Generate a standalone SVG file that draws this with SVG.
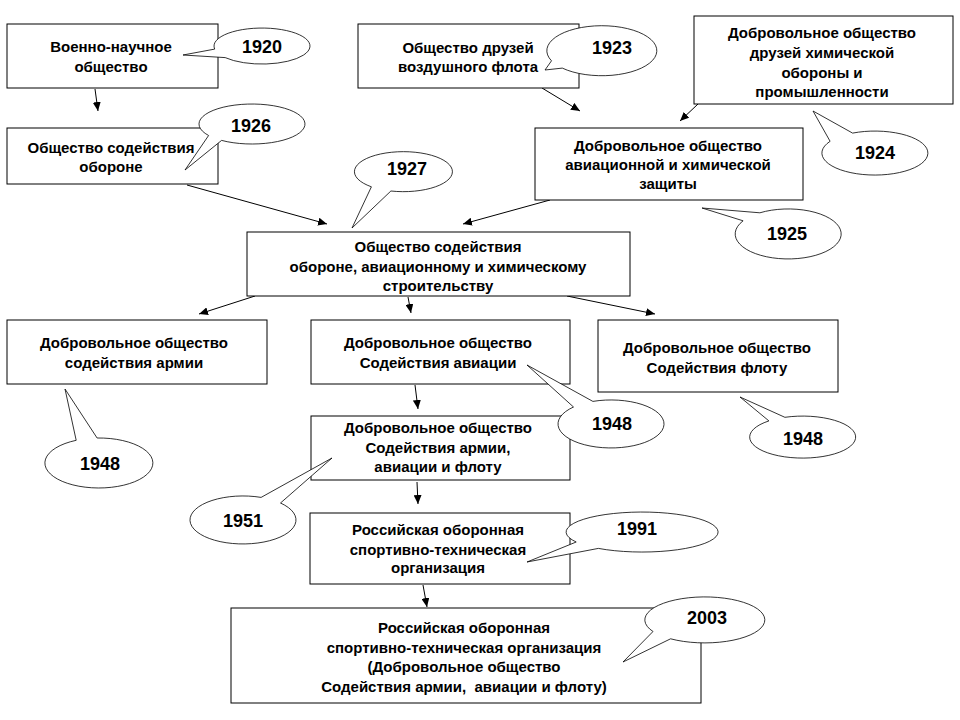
<svg xmlns="http://www.w3.org/2000/svg" width="960" height="720" viewBox="0 0 960 720">
<defs>
<marker id="ah" markerWidth="10" markerHeight="8" refX="9" refY="4" orient="auto" markerUnits="userSpaceOnUse">
<path d="M0,0 L9,4 L0,8 Z" fill="#000"/>
</marker>
<style>
.box{fill:#fff;stroke:#000;stroke-width:1}
.t{font-family:"Liberation Sans",Arial,sans-serif;font-weight:bold;font-size:15px;fill:#000;text-anchor:middle}
.y{font-family:"Liberation Sans",Arial,sans-serif;font-weight:bold;font-size:18px;fill:#000;text-anchor:middle}
.co{fill:#fff;stroke:#000;stroke-width:0.8}
.c{fill:none;stroke:#000;stroke-width:1;marker-end:url(#ah)}
</style>
</defs>
<rect width="960" height="720" fill="#fff"/>
<g id="connectors">
<line class="c" x1="95" y1="89" x2="98" y2="111"/>
<line class="c" x1="187" y1="185" x2="327" y2="224"/>
<line class="c" x1="542" y1="88" x2="580" y2="111"/>
<line class="c" x1="698" y1="104" x2="680" y2="121"/>
<line class="c" x1="550" y1="200" x2="463" y2="224"/>
<line class="c" x1="255" y1="296" x2="199" y2="314"/>
<line class="c" x1="408" y1="297" x2="411" y2="313"/>
<line class="c" x1="567" y1="296" x2="655" y2="314"/>
<line class="c" x1="415" y1="385" x2="418" y2="409"/>
<line class="c" x1="417" y1="482" x2="418" y2="504"/>
<line class="c" x1="423" y1="585" x2="427" y2="607"/>
</g>
<g id="n1"><rect class="box" x="7" y="24" width="211" height="64"/>
<text class="t" x="111" y="52">Военно-научное</text><text class="t" x="111" y="72">общество</text></g>
<g id="n2"><rect class="box" x="7" y="128" width="211" height="56"/>
<text class="t" x="111" y="153">Общество содействия</text><text class="t" x="111" y="172">обороне</text></g>
<g id="n3"><rect class="box" x="358" y="24" width="221" height="64"/>
<text class="t" x="468" y="53">Общество друзей</text><text class="t" x="468" y="72">воздушного флота</text></g>
<g id="n4"><rect class="box" x="694" y="16" width="259" height="88"/>
<text class="t" x="822" y="38">Добровольное общество</text><text class="t" x="822" y="58">друзей химической</text><text class="t" x="822" y="78">обороны и</text><text class="t" x="822" y="97">промышленности</text></g>
<g id="n5"><rect class="box" x="535" y="128" width="268" height="72"/>
<text class="t" x="668" y="151">Добровольное общество</text><text class="t" x="668" y="170">авиационной и химической</text><text class="t" x="668" y="189">защиты</text></g>
<g id="n6"><rect class="box" x="247" y="232" width="383" height="64"/>
<text class="t" x="438" y="252">Общество содействия</text><text class="t" x="438" y="272">обороне, авиационному и химическому</text><text class="t" x="438" y="291">строительству</text></g>
<g id="n7"><rect class="box" x="7" y="320" width="260" height="64"/>
<text class="t" x="134" y="348">Добровольное общество</text><text class="t" x="134" y="368">содействия армии</text></g>
<g id="n8"><rect class="box" x="311" y="320" width="259" height="64"/>
<text class="t" x="438" y="348">Добровольное общество</text><text class="t" x="438" y="368">Содействия авиации</text></g>
<g id="n9"><rect class="box" x="598" y="320" width="240" height="72"/>
<text class="t" x="717" y="353">Добровольное общество</text><text class="t" x="717" y="373">Содействия флоту</text></g>
<g id="n10"><rect class="box" x="311" y="416" width="259" height="64"/>
<text class="t" x="438" y="433">Добровольное общество</text><text class="t" x="438" y="453">Содействия армии,</text><text class="t" x="438" y="472">авиации и флоту</text></g>
<g id="n11"><rect class="box" x="310" y="513" width="260" height="71"/>
<text class="t" x="438" y="535">Российская оборонная</text><text class="t" x="438" y="555">спортивно-техническая</text><text class="t" x="438" y="573">организация</text></g>
<g id="n12"><rect class="box" x="231" y="608" width="470" height="95"/>
<text class="t" x="464" y="633">Российская оборонная</text><text class="t" x="464" y="653">спортивно-техническая организация</text><text class="t" x="464" y="672">(Добровольное общество</text><text class="t" x="464" y="692" xml:space="preserve">Содействия армии,  авиации и флоту)</text></g>
<g id="c1920"><path class="co" d="M214.7,49.1 A48,18 0 1 1 225.2,57.6 L183,55 Z"/><text class="y" x="262" y="53">1920</text></g>
<g id="c1926"><path class="co" d="M208.6,135.5 A53,20 0 1 1 221.6,140.4 L185,170 Z"/><text class="y" x="251" y="132">1926</text></g>
<g id="c1923"><path class="co" d="M551.5,60.8 A55,25 0 1 1 562.3,68.1 L545,70 Z"/><text class="y" x="612" y="54">1923</text></g>
<g id="c1924"><path class="co" d="M852.6,133.1 A53,22 0 1 1 830.1,141.3 L813,111 Z"/><text class="y" x="875" y="159">1924</text></g>
<g id="c1925"><path class="co" d="M759.9,212.8 A53,25 0 1 1 743.1,220.8 L702,208 Z"/><text class="y" x="787" y="240">1925</text></g>
<g id="c1927"><path class="co" d="M371.4,186.8 A49,20 0 1 1 390.9,191.0 L352,228 Z"/><text class="y" x="407" y="175">1927</text></g>
<g id="c1948a"><path class="co" d="M97.1,438.0 A54,25 0 1 1 76.2,440.3 L65,389 Z"/><text class="y" x="100" y="470">1948</text></g>
<g id="c1948b"><path class="co" d="M592.9,401.4 A53,24 0 1 1 573.5,407.0 L527,365 Z"/><text class="y" x="612" y="430">1948</text></g>
<g id="c1948c"><path class="co" d="M784.9,417.3 A53,21 0 1 1 768.9,420.9 L740,397 Z"/><text class="y" x="803" y="445">1948</text></g>
<g id="c1951"><path class="co" d="M280.5,503.0 A53,24 0 1 1 261.1,497.4 L332,458 Z"/><text class="y" x="243" y="527">1951</text></g>
<g id="c1991"><path class="co" d="M576.2,542.0 A76,20 0 1 1 598.4,548.4 L527,562 Z"/><text class="y" x="637" y="535">1991</text></g>
<g id="c2003"><path class="co" d="M653.0,631.5 A60,23 0 1 1 670.6,638.8 L623,662 Z"/><text class="y" x="707" y="624">2003</text></g>
</svg>
